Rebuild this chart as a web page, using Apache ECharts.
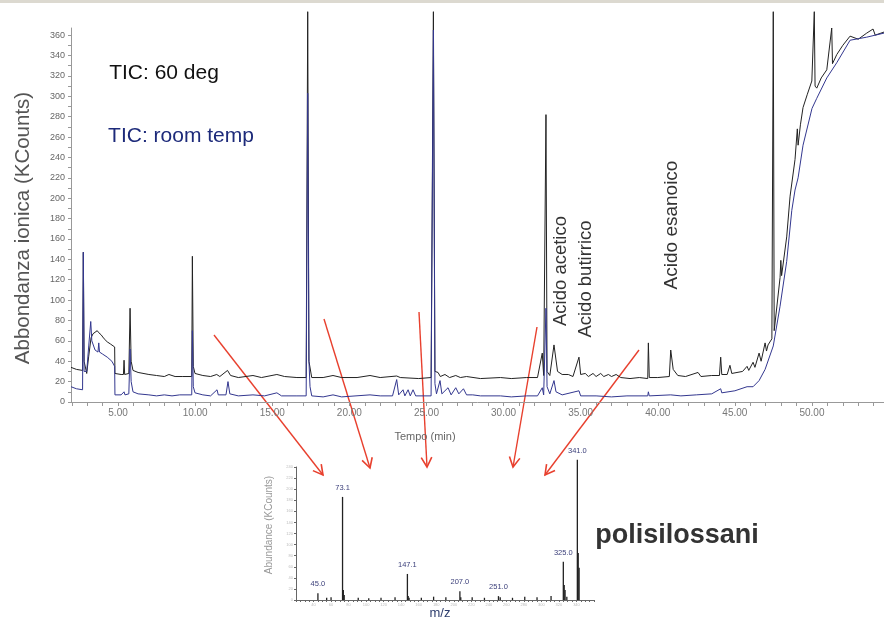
<!DOCTYPE html>
<html>
<head>
<meta charset="utf-8">
<script src="https://cdn.jsdelivr.net/npm/echarts@6/dist/echarts.min.js"></script>
<style>html,body{margin:0;padding:0;background:#fff;}#c{width:884px;height:620px;}</style>
</head>
<body>
<div id="c"></div>
<script>
// ---------- main chromatogram (time in min, abundance in KCounts) ----------
const tic60deg = [
[1.95,34],[2.3,32],[2.70,31],[2.75,147],[2.80,40],[2.97,28],[3.1,45],[3.25,63],[3.38,67],[3.5,68],[3.65,70],[3.75,68],[3.9,66],[4.1,62],[4.3,59],[4.5,57],[4.78,54],[4.80,28],[5.2,27],[5.35,27],[5.39,41],[5.43,27],[5.7,28],[5.78,92],[5.85,40],[5.97,31],[6.3,29],[7.0,27],[7.5,26],[8.0,25],[8.3,27],[8.7,25],[9.2,25],[9.78,25],[9.82,143],[9.88,35],[9.99,28],[10.5,26],[11.0,25],[11.4,27],[11.6,25],[12.1,31],[12.3,26],[12.8,24],[13.75,26],[14.3,24],[15.3,27],[15.8,25],[16.6,24],
[17.2,24],[17.30,383],[17.38,40],[17.56,24],[18.3,24],[18.94,26],[19.5,24],[20.5,24],[21.34,26],[22.0,24],[23.07,25.5],[23.3,24],[24.5,23],[25.3,24],[25.45,383],[25.55,30],[25.75,29],[25.9,25],[26.2,27],[26.5,24],[26.9,26],[27.2,24],[27.6,25],[28.5,23],[29.8,24],[30.5,23],[31.5,24],[32.2,24],[32.51,48],[32.6,26],[32.75,282],[32.82,30],[33.0,26],[33.27,56],[33.5,30],[33.8,27],[34.2,27],[34.5,25],[34.89,44],[35.0,27],[35.3,28],[35.5,25],[35.8,28],[36.0,25],[36.3,28],[36.5,25],[36.8,27],[37.0,25],[37.3,27],[37.6,24],[38.2,23],[38.8,24],[39.35,23],[39.39,58],[39.45,24],[40.0,24],[40.75,25],[40.84,51],[41.0,32],[41.3,26],[41.8,25],[42.61,29],[42.8,25],[43.5,26],[44.0,26],[44.08,44],[44.15,27],[44.5,27],[44.68,36],[44.8,28],[45.5,30],[45.79,35],[45.9,31],[46.18,39],[46.3,34],[46.57,48],[46.7,40],[46.96,58],[47.05,50],[47.15,56],[47.4,62],[47.49,383],[47.55,70],[47.93,122],[47.98,139],[48.03,124],[48.36,162],[48.58,202],[48.90,238],[49.05,268],[49.10,252],[49.25,272],[49.42,289],[49.7,302],[49.99,315],[50.15,383],[50.2,310],[50.31,308],[50.6,318],[50.96,326],[51.28,367],[51.33,332],[51.61,341],[52.0,350],[52.47,359],[53.0,356],[53.55,362],[53.96,366],[54.1,360],[54.67,363]
];
const ticRoomTemp = [
[1.95,15],[2.3,13],[2.70,12],[2.75,147],[2.80,30],[2.97,30],[3.1,55],[3.23,79],[3.3,60],[3.51,51],[3.7,49],[3.75,58],[3.8,49],[4.0,47],[4.3,44],[4.6,40],[4.78,35],[4.80,7],[5.2,7],[5.39,10],[5.45,7],[5.7,8],[5.78,52],[5.85,20],[5.97,10],[6.3,8],[7.0,7],[7.5,6],[8.0,7],[8.5,6],[9.0,7],[9.78,7],[9.82,70],[9.88,15],[9.99,9],[10.5,7],[11.0,6],[11.42,12],[11.5,7],[12.0,7],[12.13,20],[12.25,8],[12.8,6],[13.75,7],[14.5,6],[15.3,9],[15.6,6],[16.6,6],[17.2,6],[17.30,303],[17.38,40],[17.45,15],[17.56,6],[18.3,5],[18.94,7],[19.5,5],[21.34,7],[22.0,6],[22.8,6],[23.07,22],[23.2,7],[23.48,12],[23.6,6],[23.81,12],[23.95,6],[24.13,12],[24.3,6],[25.3,6],[25.45,365],[25.55,18],[25.65,8],[25.88,21],[26.0,8],[26.4,14],[26.6,7],[26.9,14],[27.1,8],[27.4,13],[27.6,7],[28.0,7],[28.5,6],[29.8,6],[30.5,5],[31.5,6],[32.2,6],[32.51,14],[32.6,7],[32.75,92],[32.82,15],[33.0,8],[33.27,21],[33.4,10],[33.8,7],[34.89,11],[35.0,6],[36.0,6],[37.0,5],[38.0,6],[39.35,6],[39.39,10],[39.45,6],[40.84,7],[41.5,6],[42.5,7],[43.5,8],[44.08,13],[44.15,9],[45.0,11],[45.79,15],[46.18,15],[46.57,21],[46.96,32],[47.49,55],[47.93,94],[48.36,138],[48.69,188],[48.9,208],[49.10,220],[49.42,252],[50.0,288],[50.31,298],[50.96,318],[51.61,333],[52.47,355],[53.55,358],[54.67,362]
];
const timeLabels = [5,10,15,20,25,30,35,40,45,50];
const timeTicks = [2,3,4,5,6,7,8,9,10,11,12,13,14,15,16,17,18,19,20,21,22,23,24,25,26,27,28,29,30,31,32,33,34,35,36,37,38,39,40,41,42,43,44,45,46,47,48,49,50,51,52,53,54];
const abundLabels = [0,20,40,60,80,100,120,140,160,180,200,220,240,260,280,300,320,340,360];

// ---------- inset mass spectrum ----------
const msMz     = [45, 55, 60, 73.1, 74, 75, 91, 103, 117, 133, 147.1, 148, 149, 163, 177, 191, 207, 208, 221, 235, 251, 253, 267, 281, 295, 311, 325, 326, 327, 329, 341, 342, 343];
const msAbund  = [12, 4, 5, 186, 18, 9, 4, 3, 4, 5, 47, 7, 4, 4, 6, 5, 16, 5, 5, 4, 7, 5, 4, 6, 5, 7, 69, 27, 18, 6, 253, 85, 58];
const msLabels = ['45.0','','','73.1','','','','','','','147.1','','','','','','207.0','','','','251.0','','','','','','325.0','','','','341.0','',''];
const msTickLabels = [40,60,80,100,120,140,160,180,200,220,240,260,280,300,320,340];

const chart = echarts.init(document.getElementById('c'));

const arrows = [[214,335,323,475],[324,319,370,468],[419,312,427,467],[537,327,513,467],[639,350,545,475]];
const graphics = [{type:'rect', shape:{x:0,y:0,width:884,height:3}, style:{fill:'#dcd9d0'}, silent:true}];
arrows.forEach(a => {
  const [x1,y1,x2,y2] = a;
  const ang = Math.atan2(y2-y1, x2-x1), L = 11, s = 0.5;
  graphics.push({type:'line', shape:{x1,y1,x2,y2}, style:{stroke:'#e8402e', lineWidth:1.4}});
  graphics.push({type:'polyline', shape:{points:[
    [x2 - L*Math.cos(ang - s), y2 - L*Math.sin(ang - s)], [x2, y2],
    [x2 - L*Math.cos(ang + s), y2 - L*Math.sin(ang + s)]]}, style:{stroke:'#e8402e', fill:null, lineWidth:1.6}});
});
function txt(t, x, y, font, fill, rot) {
  return {type:'text', x, y, rotation: rot || 0, style:{text:t, font, fill, textAlign:'center', textVerticalAlign:'middle', align:'center', verticalAlign:'middle'}};
}
const F = '"Liberation Sans", Arial, sans-serif';
graphics.push(txt('TIC: 60 deg', 164, 73, '21px ' + F, '#111'));
graphics.push(txt('TIC: room temp', 181, 136, '21px ' + F, '#1d2a7a'));
graphics.push(txt('Abbondanza ionica (KCounts)', 23, 228, '20.5px ' + F, '#555', Math.PI/2));
graphics.push(txt('Acido acetico', 561, 271, '18.5px ' + F, '#333', Math.PI/2));
graphics.push(txt('Acido butirrico', 586, 279, '18.5px ' + F, '#333', Math.PI/2));
graphics.push(txt('Acido esanoico', 672, 225, '19px ' + F, '#333', Math.PI/2));
graphics.push(txt('Tempo (min)', 425, 437, '11px ' + F, '#666'));
graphics.push(txt('Abundance (KCounts)', 269, 525, '10px ' + F, '#999', Math.PI/2));
graphics.push(txt('m/z', 440, 613, '13px ' + F, '#2c3c6c'));
graphics.push(txt('polisilossani', 677, 536, 'bold 27px ' + F, '#333'));

chart.setOption({
  animation: false,
  backgroundColor: '#fff',
  grid: [
    {left: 71, top: 28, width: 813, height: 374},
    {left: 296, top: 467, width: 298, height: 133}
  ],
  xAxis: [
    {type:'value', gridIndex:0, min:1.95, max:54.67,
     axisLine:{show:true, lineStyle:{color:'#999', width:1}},
     axisTick:{show:true, customValues: timeTicks, length:4, lineStyle:{color:'#999'}},
     axisLabel:{customValues: timeLabels, formatter: v => v.toFixed(2), color:'#777', fontSize:10, margin:6, fontFamily:'Liberation Sans'},
     splitLine:{show:false}},
    {type:'value', gridIndex:1, min:20, max:360,
     axisLine:{show:true, lineStyle:{color:'#666', width:1}},
     axisTick:{show:true, customValues: Array.from({length:69},(_, i)=>20+i*5), length:2, lineStyle:{color:'#666'}},
     axisLabel:{customValues: msTickLabels, color:'#bbb', fontSize:4, margin:3},
     splitLine:{show:false}}
  ],
  yAxis: [
    {type:'value', gridIndex:0, min:0, max:367,
     axisLine:{show:true, lineStyle:{color:'#999', width:1}},
     axisTick:{show:true, customValues: Array.from({length:37},(_, i)=>i*10), length:3, lineStyle:{color:'#999'}},
     axisLabel:{customValues: abundLabels, color:'#666', fontSize:9, margin:6, fontFamily:'Liberation Sans'},
     splitLine:{show:false}},
    {type:'value', gridIndex:1, min:0, max:240,
     axisLine:{show:true, lineStyle:{color:'#666', width:1}},
     axisTick:{show:true, customValues: Array.from({length:13},(_, i)=>i*20), length:2, lineStyle:{color:'#666'}},
     axisLabel:{customValues: Array.from({length:13},(_, i)=>i*20), color:'#bbb', fontSize:4, margin:3},
     splitLine:{show:false}}
  ],
  series: [
    {type:'line', name:'TIC: 60 deg', xAxisIndex:0, yAxisIndex:0, data: tic60deg, showSymbol:false, symbol:'none', clip:false,
     lineStyle:{color:'#222', width:1}},
    {type:'line', name:'TIC: room temp', xAxisIndex:0, yAxisIndex:0, data: ticRoomTemp, showSymbol:false, symbol:'none', clip:false,
     lineStyle:{color:'#33378f', width:1}},
    {type:'bar', xAxisIndex:1, yAxisIndex:1, barWidth:1.3, clip:false,
     itemStyle:{color:'#222'},
     data: msMz.map((m, i) => ({value:[m, msAbund[i]], label:{show: msLabels[i] !== '', formatter: msLabels[i]}})),
     label:{position:'top', distance:5, color:'#3b3f7a', fontSize:7.5, fontFamily:'Liberation Sans'}}
  ],
  graphic: graphics
});
</script>
</body>
</html>
